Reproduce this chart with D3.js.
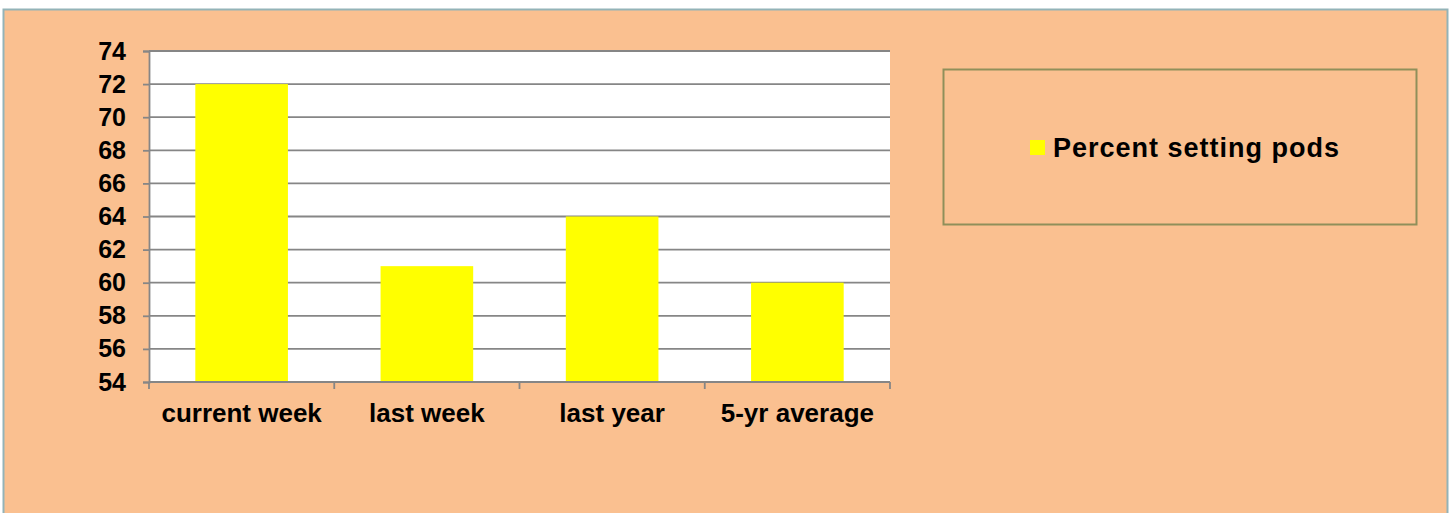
<!DOCTYPE html>
<html>
<head>
<meta charset="utf-8">
<script src="https://cdn.jsdelivr.net/npm/d3@7"></script>
<style>
  body { margin: 0; background: #fff; }
  svg { display: block; font-family: "Liberation Sans", Arial, sans-serif; font-weight: bold; }
</style>
</head>
<body>
<svg id="chart" width="1451" height="513"></svg>
<script>
// chart values
var categories = ["current week", "last week", "last year", "5-yr average"];
var percentSettingPods = [72, 61, 64, 60];
var yTicks = [54, 56, 58, 60, 62, 64, 66, 68, 70, 72, 74];
var seriesName = "Percent setting pods";

var svg = d3.select("#chart");

// chart area background + frame
svg.append("rect")
    .attr("x", 3.5).attr("y", 9.5)
    .attr("width", 1444).attr("height", 520)
    .attr("fill", "#fac090")
    .attr("stroke", "#93b3b8")
    .attr("stroke-width", 2);

// plot box (don't call it "top", window.top is taken)
var plotLeft = 149, plotRight = 890, plotTop = 51, plotBottom = 382;

var x = d3.scaleBand().domain(categories).range([plotLeft, plotRight]).paddingInner(0.5).paddingOuter(0.25);
var y = d3.scaleLinear().domain([54, 74]).range([plotBottom, plotTop]);

// plot area
svg.append("rect")
    .attr("x", plotLeft).attr("y", plotTop)
    .attr("width", plotRight - plotLeft).attr("height", plotBottom - plotTop)
    .attr("fill", "#fff");

// gridlines
svg.append("g").selectAll("line")
    .data(yTicks.slice(1))
    .join("line")
    .attr("x1", plotLeft).attr("x2", plotRight)
    .attr("y1", d => y(d)).attr("y2", d => y(d))
    .attr("stroke", "#868686")
    .attr("stroke-width", 1.8);

// bars
svg.append("g").selectAll("rect")
    .data(percentSettingPods)
    .join("rect")
    .attr("x", (d, i) => x(categories[i]))
    .attr("width", x.bandwidth())
    .attr("y", d => y(d))
    .attr("height", d => y(54) - y(d))
    .attr("fill", "#ffff00");

// y axis
var yAxis = svg.append("g")
    .attr("transform", "translate(" + plotLeft + ",0)")
    .call(d3.axisLeft(y).tickValues(yTicks).tickSize(6).tickPadding(17));
yAxis.selectAll("path, line").attr("stroke", "#868686").attr("stroke-width", 1.8);
yAxis.selectAll("text")
    .attr("fill", "#000")
    .style("font-size", "25px")
    .style("font-weight", "bold")
    .style("font-family", "'Liberation Sans', Arial, sans-serif");

// x axis: ticks between categories, like the original
var xAxisG = svg.append("g");
xAxisG.append("line")
    .attr("x1", plotLeft).attr("x2", plotRight)
    .attr("y1", plotBottom).attr("y2", plotBottom)
    .attr("stroke", "#868686").attr("stroke-width", 1.8);
var step = x.step();
var bounds = d3.range(categories.length + 1).map(i => plotLeft + i * step);
xAxisG.selectAll(".xt")
    .data(bounds)
    .join("line")
    .attr("class", "xt")
    .attr("x1", d => d).attr("x2", d => d)
    .attr("y1", plotBottom).attr("y2", plotBottom + 7)
    .attr("stroke", "#868686").attr("stroke-width", 1.8);
xAxisG.selectAll("text")
    .data(categories)
    .join("text")
    .attr("x", d => x(d) + x.bandwidth() / 2)
    .attr("y", 422)
    .attr("text-anchor", "middle")
    .style("font-size", "26px")
    .text(d => d);

// legend
var legend = svg.append("g");
legend.append("rect")
    .attr("x", 943.5).attr("y", 69.5)
    .attr("width", 473).attr("height", 155)
    .attr("fill", "none")
    .attr("stroke", "#8f8f5a")
    .attr("stroke-width", 2);
legend.append("rect")
    .attr("x", 1030).attr("y", 140)
    .attr("width", 15).attr("height", 15)
    .attr("fill", "#ffff00");
legend.append("text")
    .attr("x", 1053).attr("y", 157)
    .style("font-size", "27px")
    .style("letter-spacing", "1px")
    .text(seriesName);
</script>
</body>
</html>
